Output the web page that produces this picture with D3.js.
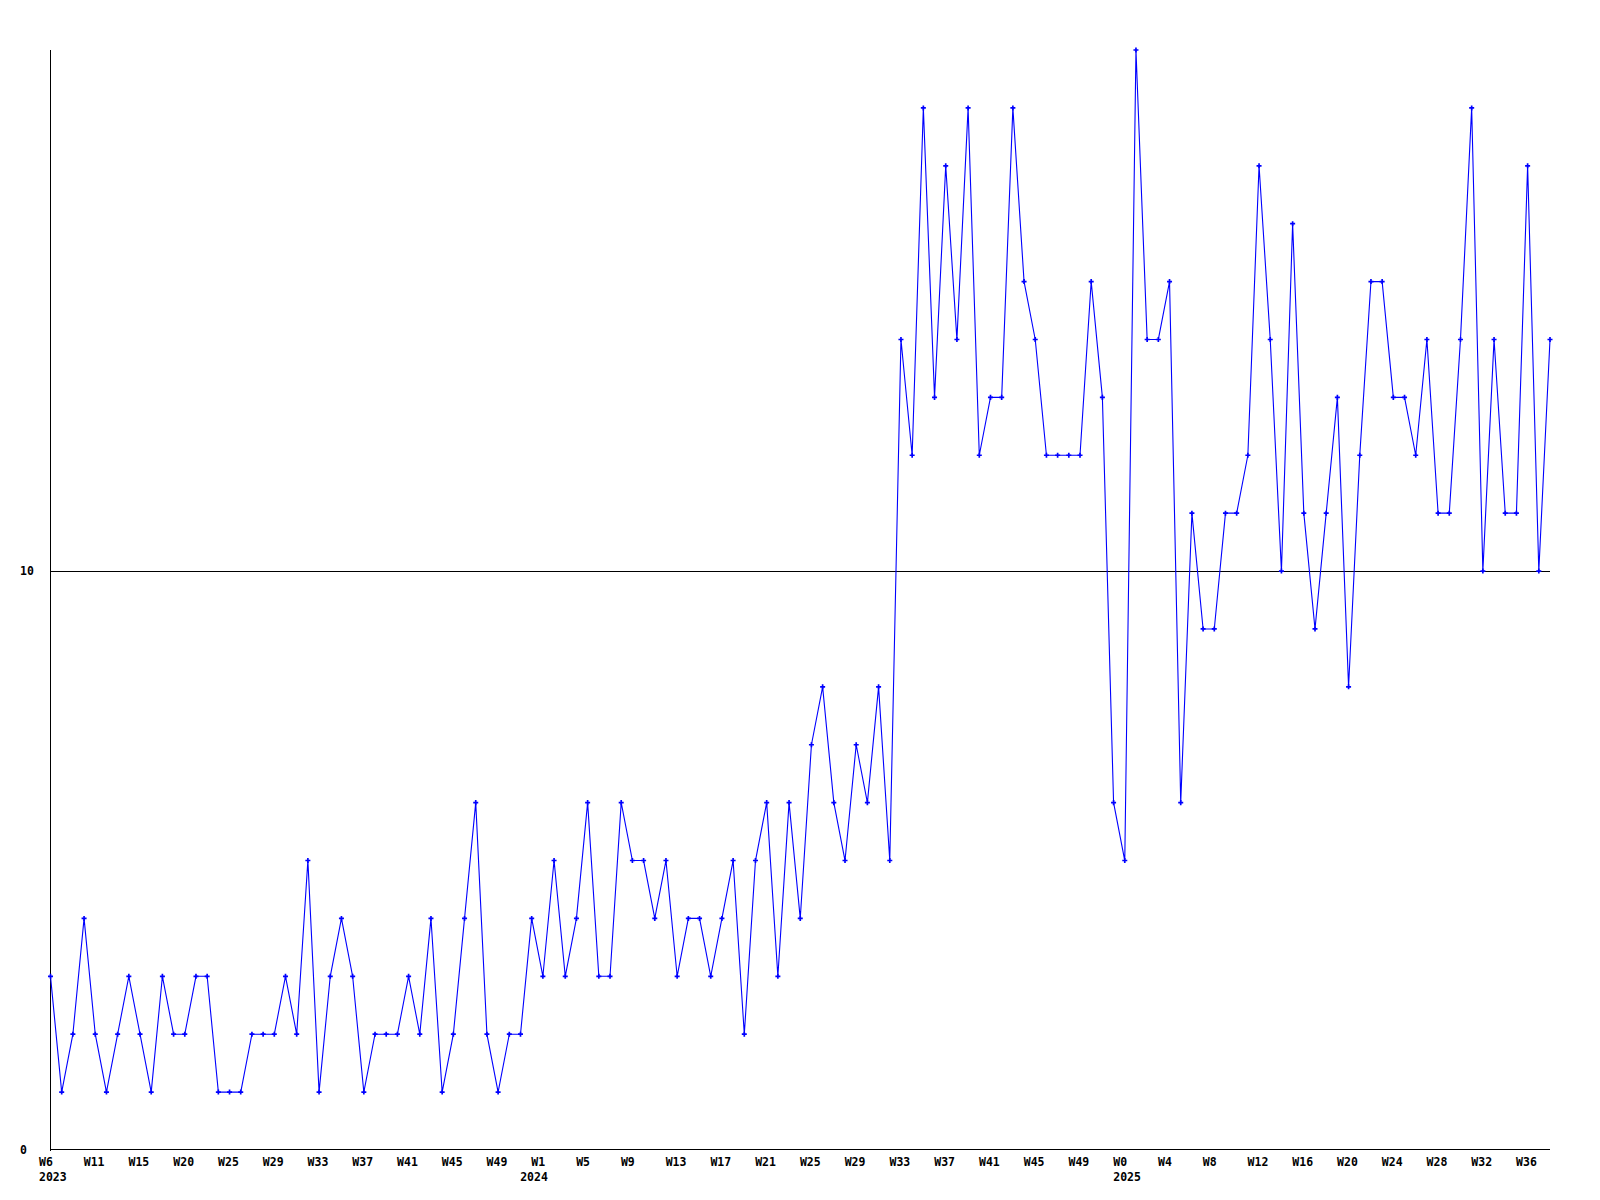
<!DOCTYPE html>
<html>
<head>
<meta charset="utf-8">
<script src="https://cdn.jsdelivr.net/npm/d3@7"></script>
<style>
  html, body { margin: 0; padding: 0; background: #fff; }
  svg text { font-family: "DejaVu Sans Mono", "Liberation Mono", monospace; font-weight: bold; font-size: 11.5px; fill: #000; }
</style>
</head>
<body>
<svg id="chart" width="1600" height="1200"></svg>
<script>
// Weekly values, one per point
const values = [
  3,1,2,4,2,1,2,3,2,1,3,2,2,3,3,1,1,1,2,2,2,3,2,5,1,3,4,3,1,2,2,2,3,2,4,
  1,2,4,6,2,1,2,2,4,3,5,3,4,6,3,3,6,5,5,4,5,3,4,4,3,4,5,2,5,6,3,6,4,7,8,6,5,
  7,6,8,5,14,12,18,13,17,14,18,12,13,13,18,15,14,12,12,12,12,15,13,6,5,19,
  14,14,15,6,11,9,9,11,11,12,17,14,10,16,11,9,11,13,8,12,
  15,15,13,13,12,14,11,11,14,18,10,14,11,11,17,10,14
];
// X tick labels (one every 4 points)
const weekLabels = [
  "W6","W11","W15","W20","W25","W29","W33","W37","W41","W45","W49",
  "W1","W5","W9","W13","W17","W21","W25","W29","W33","W37","W41","W45","W49",
  "W0","W4","W8","W12","W16","W20","W24","W28","W32","W36"
];
// Year labels: [point index, text]
const yearLabels = [[0,"2023"],[43,"2024"],[96,"2025"]];
const yTicks = [0, 10];
const labelStep = 4;

const svg = d3.select("#chart");
const x = d3.scaleLinear().domain([0, values.length - 1]).range([50.5, 1550]);
const y = d3.scaleLinear().domain([0, 19]).range([1150, 50]);

// gridline at 10
svg.selectAll("line.grid").data(yTicks.filter(d => d !== 0)).enter().append("line")
  .attr("x1", 50).attr("x2", 1550)
  .attr("y1", d => Math.round(y(d)) + 0.5).attr("y2", d => Math.round(y(d)) + 0.5)
  .attr("stroke", "#000").attr("stroke-width", 1).attr("shape-rendering", "crispEdges");

// axes
svg.append("line").attr("x1", 50.5).attr("x2", 50.5).attr("y1", 50).attr("y2", Math.round(y(0)) + 0.5)
  .attr("stroke", "#000").attr("shape-rendering", "crispEdges");
svg.append("line").attr("x1", 50).attr("x2", 1550).attr("y1", Math.round(y(0)) - 0.5).attr("y2", Math.round(y(0)) - 0.5)
  .attr("stroke", "#000").attr("shape-rendering", "crispEdges");

// y labels
svg.selectAll("text.ylab").data(yTicks).enter().append("text")
  .attr("x", 20).attr("y", d => y(d) + 4).text(d => d);

// x labels
svg.selectAll("text.xlab").data(weekLabels).enter().append("text")
  .attr("x", (d, i) => x(i * labelStep) - 11.5).attr("y", 1166).text(d => d);
svg.selectAll("text.yr").data(yearLabels).enter().append("text")
  .attr("x", d => x(d[0]) - 11.5).attr("y", 1181).text(d => d[1]);

// line
const line = d3.line().x((d, i) => x(i)).y(d => y(d));
svg.append("path").datum(values).attr("d", line)
  .attr("fill", "none").attr("stroke", "#0000ff").attr("stroke-width", 1.1);

// markers
const sym = d3.symbol().type(d3.symbolCross).size(14);
svg.selectAll("path.pt").data(values).enter().append("path")
  .attr("d", sym)
  .attr("transform", (d, i) => `translate(${x(i)},${y(d)})`)
  .attr("fill", "#0000ff");
</script>
</body>
</html>
